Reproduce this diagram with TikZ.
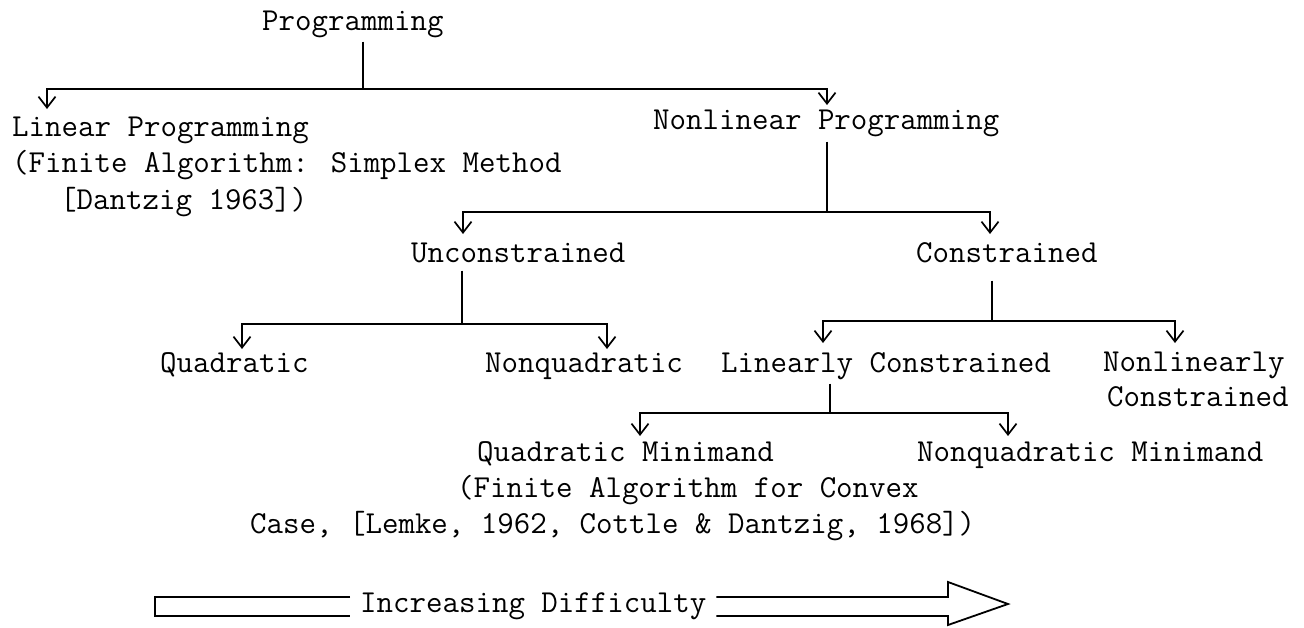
\documentclass[tikz,border=0pt]{standalone}
\usetikzlibrary{arrows.meta,calc}
\begin{document}
\begin{tikzpicture}[x=1pt,y=-1pt,
  txt/.style={font=\fontsize{32}{38}\selectfont\ttfamily, inner sep=0pt, anchor=base west},
  ln/.style={line width=1.8pt},
  arr/.style={line width=1.8pt, -{Straight Barb[length=11pt,width=17pt,line width=1.7pt]}},
  bigarrow/.style={line width=1.8pt, line join=miter}]
\useasboundingbox (0,0) rectangle (1304,627);
% texts
\node[txt] (prog) at (262,30) {Programming};
\node[txt] (lp) at (12,136) {Linear Programming};
\node[txt] (lp2) at (12,172) {(Finite Algorithm: Simplex Method};
\node[txt] (lp3) at (60,209) {[Dantzig 1963])};
\node[txt] (nlp) at (653,129) {Nonlinear Programming};
\node[txt] (unc) at (411,262) {Unconstrained};
\node[txt] (con) at (916,262) {Constrained};
\node[txt] (quad) at (160,372) {Quadratic};
\node[txt] (nquad) at (485,372) {Nonquadratic};
\node[txt] (lc) at (721,372) {Linearly Constrained};
\node[txt] (nlc) at (1103,371) {Nonlinearly};
\node[txt] (nlc2) at (1107,406) {Constrained};
\node[txt] (qm) at (477,461) {Quadratic Minimand};
\node[txt] (qm2) at (457,497) {(Finite Algorithm for Convex};
\node[txt] (qm3) at (250,533) {Case, [Lemke, 1962, Cottle \& Dantzig, 1968])};
\node[txt] (nqm) at (917,461) {Nonquadratic Minimand};
\node[txt] (diff) at (360,612) {Increasing Difficulty};
% junctions and arrow tips
\coordinate (j1) at (363,89);
\coordinate (tlp) at (47,109);
\coordinate (tnlp) at (827,105);
\coordinate (j2) at (827,212);
\coordinate (tunc) at (463,234);
\coordinate (tcon) at (990,234);
\coordinate (j3) at (462,324);
\coordinate (tquad) at (242,349);
\coordinate (tnquad) at (607,349);
\coordinate (j4) at (992,321);
\coordinate (tlc) at (823,343);
\coordinate (tnlc) at (1175,343);
\coordinate (j5) at (830,413);
\coordinate (tqm) at (640,436);
\coordinate (tnqm) at (1008,436);
% tree connectors
\draw[ln] ($(prog.south -| j1)+(0,4)$) -- (j1);
\draw[arr] (j1) -| (tlp);
\draw[arr] (j1) -| (tnlp);
\draw[ln] ($(nlp.south -| j2)+(0,5)$) -- (j2);
\draw[arr] (j2) -| (tunc);
\draw[arr] (j2) -| (tcon);
\draw[ln] ($(unc.south -| j3)+(0,8)$) -- (j3);
\draw[arr] (j3) -| (tquad);
\draw[arr] (j3) -| (tnquad);
\draw[ln] ($(con.south -| j4)+(0,18)$) -- (j4);
\draw[arr] (j4) -| (tlc);
\draw[arr] (j4) -| (tnlc);
\draw[ln] ($(lc.south -| j5)+(0,4)$) -- (j5);
\draw[arr] (j5) -| (tqm);
\draw[arr] (j5) -| (tnqm);
% increasing difficulty arrow
\draw[bigarrow] ($(diff.west |- 0,597)+(-10,0)$) -- (155,597) -- (155,616) -- ($(diff.west |- 0,616)+(-10,0)$);
\draw[bigarrow] ($(diff.east |- 0,597)+(10,0)$) -- (948,597) -- (948,582) -- (1008,604) -- (948,625) -- (948,616) -- ($(diff.east |- 0,616)+(10,0)$);
\end{tikzpicture}
\end{document}
